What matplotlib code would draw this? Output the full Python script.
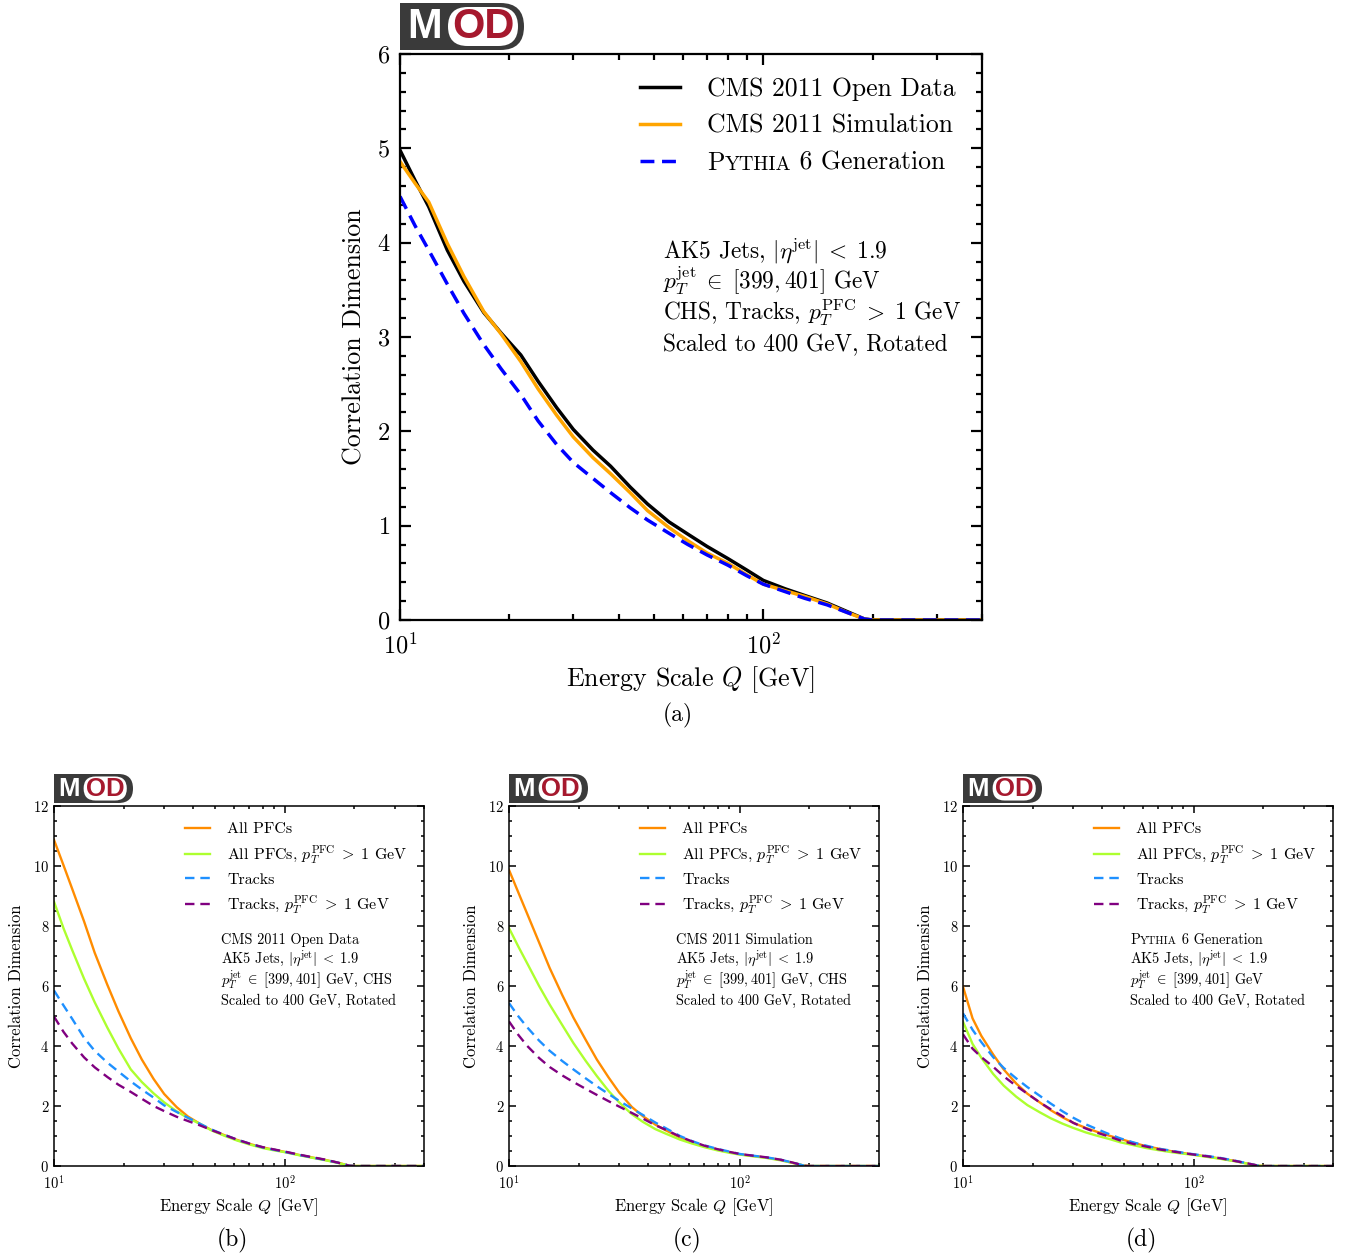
import numpy as np
import matplotlib
matplotlib.use("Agg")
import matplotlib.pyplot as plt
from matplotlib.ticker import MultipleLocator, LogLocator, NullFormatter
from matplotlib.patches import FancyBboxPatch, Rectangle
from matplotlib.offsetbox import TextArea, HPacker

plt.rcParams.update({
    'font.family': 'serif',
    'font.serif': ['cmr10'],
    'mathtext.fontset': 'cm',
    'axes.formatter.use_mathtext': True,
    'axes.unicode_minus': False,
})

# ---------------- data ----------------
Q = [10, 11, 12, 13.5, 15, 17, 19, 21.5, 24, 27, 30, 34, 38, 43, 48, 55, 62, 70,
     80, 90, 100, 115, 130, 150, 170, 190, 200, 400]

# panel (a)
open_data = [4.98, 4.66, 4.38, 3.92, 3.59, 3.26, 3.04, 2.81, 2.53, 2.25, 2.02, 1.80, 1.63, 1.41,
             1.23, 1.04, 0.91, 0.78, 0.65, 0.53, 0.42, 0.33, 0.26, 0.18, 0.09, 0.01, 0, 0]
simulation = [4.86, 4.63, 4.43, 3.99, 3.64, 3.27, 3.03, 2.74, 2.45, 2.17, 1.94, 1.72, 1.55, 1.35,
              1.16, 0.98, 0.84, 0.71, 0.60, 0.48, 0.38, 0.31, 0.25, 0.17, 0.08, 0.01, 0, 0]
pythia = [4.49, 4.18, 3.92, 3.56, 3.25, 2.92, 2.66, 2.39, 2.11, 1.86, 1.67, 1.50, 1.35, 1.19,
          1.06, 0.92, 0.80, 0.69, 0.58, 0.47, 0.38, 0.30, 0.23, 0.16, 0.08, 0.01, 0, 0]

# panel (b) CMS 2011 Open Data
b_all = [10.87, 10.02, 9.23, 8.15, 7.11, 6.05, 5.16, 4.26, 3.55, 2.90, 2.40, 1.96, 1.65, 1.40,
         1.20, 1.02, 0.87, 0.74, 0.62, 0.54, 0.47, 0.37, 0.29, 0.20, 0.11, 0.01, 0, 0]
b_all1 = [8.81, 7.92, 7.19, 6.24, 5.46, 4.62, 3.92, 3.22, 2.80, 2.42, 2.12, 1.82, 1.60, 1.40,
          1.19, 1.00, 0.85, 0.72, 0.60, 0.52, 0.46, 0.36, 0.28, 0.19, 0.10, 0.01, 0, 0]
b_trk = [5.85, 5.35, 4.90, 4.27, 3.84, 3.45, 3.15, 2.82, 2.55, 2.28, 2.02, 1.80, 1.61, 1.40,
         1.22, 1.03, 0.88, 0.75, 0.62, 0.54, 0.47, 0.37, 0.29, 0.20, 0.11, 0.01, 0, 0]
b_trk1 = [4.98, 4.47, 4.08, 3.62, 3.29, 2.97, 2.71, 2.47, 2.24, 2.00, 1.83, 1.64, 1.50, 1.35,
          1.20, 1.03, 0.88, 0.75, 0.63, 0.55, 0.48, 0.38, 0.30, 0.21, 0.11, 0.01, 0, 0]

# panel (c) CMS 2011 Simulation
c_all = [9.87, 9.1, 8.4, 7.45, 6.6, 5.7, 4.95, 4.2, 3.55, 2.95, 2.45, 1.97, 1.66, 1.38, 1.18,
         0.95, 0.8, 0.66, 0.55, 0.46, 0.39, 0.33, 0.28, 0.2, 0.1, 0.01, 0, 0]
c_all1 = [7.93, 7.3, 6.75, 6.0, 5.38, 4.7, 4.1, 3.5, 3.0, 2.5, 2.12, 1.73, 1.47, 1.23, 1.07,
          0.88, 0.75, 0.63, 0.52, 0.44, 0.38, 0.32, 0.27, 0.19, 0.1, 0.01, 0, 0]
c_trk = [5.43, 4.98, 4.62, 4.18, 3.84, 3.5, 3.22, 2.92, 2.66, 2.4, 2.17, 1.92, 1.7, 1.45, 1.25,
         1.0, 0.83, 0.69, 0.57, 0.48, 0.4, 0.34, 0.29, 0.21, 0.11, 0.01, 0, 0]
c_trk1 = [4.82, 4.36, 4.0, 3.6, 3.3, 3.02, 2.8, 2.57, 2.37, 2.16, 1.98, 1.77, 1.58, 1.36, 1.2,
          0.98, 0.82, 0.68, 0.56, 0.47, 0.4, 0.34, 0.29, 0.21, 0.11, 0.01, 0, 0]

# panel (d) Pythia 6 Generation
d_all = [5.98, 4.92, 4.34, 3.72, 3.22, 2.75, 2.41, 2.12, 1.86, 1.62, 1.44, 1.27, 1.14, 1.01,
         0.90, 0.77, 0.66, 0.58, 0.49, 0.43, 0.38, 0.31, 0.25, 0.17, 0.08, 0.01, 0, 0]
d_all1 = [4.81, 4.07, 3.61, 3.07, 2.68, 2.31, 2.03, 1.79, 1.59, 1.41, 1.27, 1.12, 1.01, 0.90,
          0.79, 0.69, 0.60, 0.53, 0.46, 0.41, 0.37, 0.30, 0.24, 0.16, 0.08, 0.01, 0, 0]
d_trk = [5.09, 4.54, 4.13, 3.63, 3.27, 2.92, 2.63, 2.34, 2.08, 1.82, 1.61, 1.39, 1.23, 1.06,
         0.92, 0.78, 0.68, 0.58, 0.51, 0.44, 0.39, 0.33, 0.27, 0.18, 0.09, 0.01, 0, 0]
d_trk1 = [4.39, 3.91, 3.63, 3.31, 2.99, 2.67, 2.41, 2.12, 1.89, 1.66, 1.44, 1.25, 1.11, 0.98,
          0.85, 0.73, 0.65, 0.56, 0.49, 0.43, 0.38, 0.32, 0.26, 0.17, 0.09, 0.01, 0, 0]

top_labels = ["CMS 2011 Open Data", "CMS 2011 Simulation", "PYTHIA 6 Generation"]
bot_labels = ["All PFCs", r"All PFCs, $p_T^\mathrm{PFC}\;>\;1$ GeV", "Tracks",
              r"Tracks, $p_T^\mathrm{PFC}\;>\;1$ GeV"]

# ---------------- figure ----------------
W, H = 1349, 1257
fig = plt.figure(figsize=(W / 100, H / 100), dpi=100)


def fx(x):
    return x / W


def fy(y):
    return 1 - y / H


def add_ax(l, t, r, b):
    return fig.add_axes([fx(l), fy(b), fx(r) - fx(l), fy(t) - fy(b)])


def draw_logo(l, t, w, h):
    ax = fig.add_axes([fx(l), fy(t + h), w / W, h / H])
    ax.set_xlim(0, w)
    ax.set_ylim(0, h)
    ax.axis('off')
    dark = '#3a3a3a'
    ax.add_patch(FancyBboxPatch((0, 0), w, h, boxstyle=f"round,pad=0,rounding_size={h/2}",
                                fc=dark, ec='none'))
    ax.add_patch(Rectangle((0, 0), w / 2, h, fc=dark, ec='none'))
    s = h / 47.0
    ax.add_patch(FancyBboxPatch((48 * s, 4 * s), 70 * s, 39 * s,
                                boxstyle=f"round,pad=0,rounding_size={19.5*s}",
                                fc='white', ec='none'))
    fs = 30 * s
    ax.text(25 * s, h / 2, "M", color='white', fontsize=fs, fontweight='bold',
            family='Liberation Sans', ha='center', va='center')
    ax.text(83 * s, h / 2, "OD", color='#a6192e', fontsize=fs, fontweight='bold',
            family='Liberation Sans', ha='center', va='center')


def smallcaps_box(fs):
    kw = dict(fontsize=fs, color='black', family='serif')
    parts = [TextArea("P", textprops=kw),
             TextArea("YTHIA", textprops=dict(kw, fontsize=fs * 0.78)),
             TextArea(" 6 Generation", textprops=kw)]
    return HPacker(children=parts, align="baseline", pad=0, sep=0)


def replace_label(leg, target, fs):
    try:
        for col in leg._legend_handle_box.get_children():
            for item in col.get_children():
                ch = item.get_children()
                for i, c in enumerate(ch):
                    if isinstance(c, TextArea) and c.get_text() == target:
                        nb = smallcaps_box(fs)
                        nb.set_figure(fig)
                        item._children[i] = nb
                        return
    except Exception:
        pass


def smallcaps_line(ax, x, y, fs):
    t1 = ax.text(x, y, "P", fontsize=fs, transform=fig.transFigure, va='baseline', ha='left')
    t2 = ax.annotate("YTHIA", xy=(1, y), xycoords=(t1, fig.transFigure), fontsize=fs * 0.78,
                     va='baseline', ha='left', annotation_clip=False)
    ax.annotate(" 6 Generation", xy=(1, y), xycoords=(t2, fig.transFigure), fontsize=fs,
                va='baseline', ha='left', annotation_clip=False)


def style_axes(ax, major_y, minor_y, ymax, fs, lmaj, lmin, lw):
    ax.set_xscale('log')
    ax.set_xlim(10, 400)
    ax.set_ylim(0, ymax)
    ax.yaxis.set_major_locator(MultipleLocator(major_y))
    ax.yaxis.set_minor_locator(MultipleLocator(minor_y))
    ax.xaxis.set_major_locator(LogLocator(base=10))
    ax.xaxis.set_minor_locator(LogLocator(base=10, subs=np.arange(2, 10)))
    ax.xaxis.set_minor_formatter(NullFormatter())
    ax.tick_params(which='both', direction='in', top=True, right=True, labelsize=fs, width=lw)
    ax.tick_params(which='major', length=lmaj)
    ax.tick_params(which='minor', length=lmin)
    for sp in ax.spines.values():
        sp.set_linewidth(lw)


# ---------------- panel (a) ----------------
axa = add_ax(400, 54, 982, 620)
style_axes(axa, 1, 0.2, 6, 17.5, 8, 4, 1.6)
axa.tick_params(axis='x', pad=9)
axa.tick_params(axis='y', pad=7)
axa.plot(Q, open_data, color='black', lw=2.5, label=top_labels[0])
axa.plot(Q, simulation, color='orange', lw=2.5, label=top_labels[1])
axa.plot(Q, pythia, color='#0000ff', lw=2.5, ls=(0, (4, 2.2)), label=top_labels[2])
axa.set_xlabel(r"Energy Scale $Q$ [GeV]", fontsize=18.7)
axa.set_ylabel("Correlation Dimension", fontsize=18.7)
axa.xaxis.set_label_coords(0.5, (620 - 680) / 566)
axa.xaxis.label.set_va('center')
axa.yaxis.set_label_coords((355 - 400) / 582, 0.5)
axa.yaxis.label.set_va('center')
leg = axa.legend(loc='upper left', bbox_to_anchor=(fx(640), fy(77)), bbox_transform=fig.transFigure,
                 frameon=False, fontsize=18.5, handlelength=1.55, handletextpad=1.05,
                 labelspacing=0.52, borderpad=0, borderaxespad=0)
replace_label(leg, top_labels[2], 18.5)

ann_fs = 16.8
axa.text(fx(663), fy(258), r"AK5 Jets, $|\eta^\mathrm{jet}|\;<\;1.9$", fontsize=ann_fs,
         transform=fig.transFigure, va='baseline')
axa.text(fx(663), fy(289), r"$p_T^\mathrm{jet}\;\in\;[399, 401]$ GeV", fontsize=ann_fs,
         transform=fig.transFigure, va='baseline')
axa.text(fx(663), fy(320), r"CHS, Tracks, $p_T^\mathrm{PFC}\;>\;1$ GeV", fontsize=ann_fs,
         transform=fig.transFigure, va='baseline')
axa.text(fx(663), fy(351), "Scaled to 400 GeV, Rotated", fontsize=ann_fs,
         transform=fig.transFigure, va='baseline')
fig.text(fx(678), fy(715), "(a)", fontsize=17, ha='center', va='center')
draw_logo(400, 3, 124, 47)

# ---------------- panels (b), (c), (d) ----------------
panels = [
    (54, [b_all, b_all1, b_trk, b_trk1], "CMS 2011 Open Data",
     [r"AK5 Jets, $|\eta^\mathrm{jet}|\;<\;1.9$", r"$p_T^\mathrm{jet}\;\in\;[399, 401]$ GeV, CHS",
      "Scaled to 400 GeV, Rotated"], "(b)"),
    (509, [c_all, c_all1, c_trk, c_trk1], "CMS 2011 Simulation",
     [r"AK5 Jets, $|\eta^\mathrm{jet}|\;<\;1.9$", r"$p_T^\mathrm{jet}\;\in\;[399, 401]$ GeV, CHS",
      "Scaled to 400 GeV, Rotated"], "(c)"),
    (963, [d_all, d_all1, d_trk, d_trk1], None,
     [r"AK5 Jets, $|\eta^\mathrm{jet}|\;<\;1.9$", r"$p_T^\mathrm{jet}\;\in\;[399, 401]$ GeV",
      "Scaled to 400 GeV, Rotated"], "(d)"),
]
colors = ['#ff8c00', '#adff2f', '#1e90ff', '#800080']
styles = ['-', '-', (0, (4, 2.5)), (0, (4, 2.5))]
bfs = 10.3
line_y = [964, 985, 1004.5]
for left, series, head, lines, cap in panels:
    ax = add_ax(left, 806, left + 370, 1166)
    style_axes(ax, 2, 0.5, 12, 10.5, 5, 2.5, 1.1)
    ax.tick_params(axis='x', pad=6)
    for ys, col, ls, lab in zip(series, colors, styles, bot_labels):
        ax.plot(Q, ys, color=col, lw=1.7, ls=ls, label=lab)
    ax.set_xlabel(r"Energy Scale $Q$ [GeV]", fontsize=11.9)
    ax.set_ylabel("Correlation Dimension", fontsize=11.9)
    ax.xaxis.set_label_coords(0.5, (1166 - 1207) / 360)
    ax.xaxis.label.set_va('center')
    ax.yaxis.set_label_coords((16 - 54) / 370, 0.5)
    ax.yaxis.label.set_va('center')
    ax.legend(loc='upper left', bbox_to_anchor=(fx(left + 131), fy(822)),
              bbox_transform=fig.transFigure, frameon=False, fontsize=11.5,
              handlelength=1.55, handletextpad=1.1, labelspacing=0.44,
              borderpad=0, borderaxespad=0)
    tx = left + 167
    if head is None:
        smallcaps_line(ax, fx(tx), fy(944), bfs)
    else:
        ax.text(fx(tx), fy(944), head, fontsize=bfs, transform=fig.transFigure, va='baseline')
    for ln, yy in zip(lines, line_y):
        ax.text(fx(tx), fy(yy), ln, fontsize=bfs, transform=fig.transFigure, va='baseline')
    fig.text(fx(left + 178), fy(1240), cap, fontsize=17, ha='center', va='center')
    draw_logo(left, 774, 79, 29)

fig.savefig("out.png", dpi=100)
